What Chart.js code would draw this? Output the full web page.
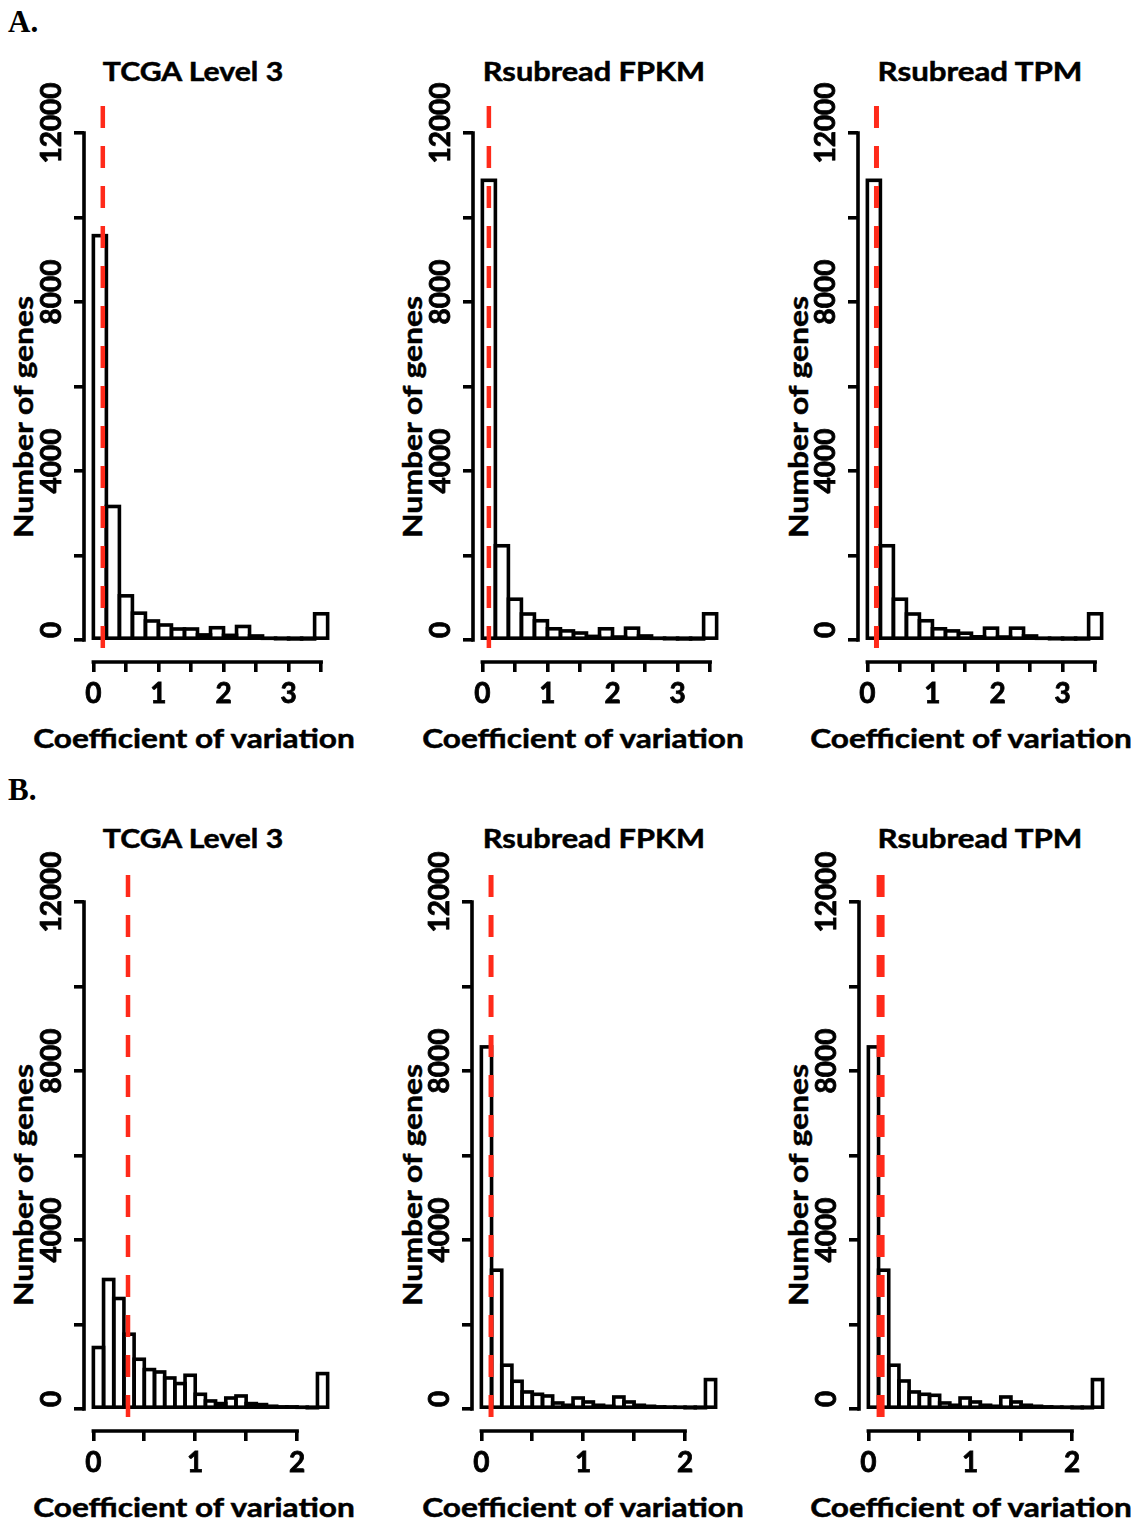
<!DOCTYPE html>
<html><head><meta charset="utf-8">
<script src="https://cdn.jsdelivr.net/npm/chart.js@4.4.1/dist/chart.umd.min.js"></script>
<style>
html,body{margin:0;padding:0;background:#fff;}
#page{position:relative;width:1139px;height:1526px;overflow:hidden;background:#fff;}
canvas{position:absolute;}
.t{position:absolute;display:inline-block;font-family:Lato,'Open Sans',sans-serif;font-weight:700;font-size:27px;line-height:27px;white-space:nowrap;color:#000;-webkit-text-stroke:0.5px #000;}
.lbl{position:absolute;font-family:'Liberation Serif','Times New Roman',serif;font-weight:700;font-size:31px;line-height:31px;color:#000;}
</style></head>
<body><div id="page"></div>
<script>
// ---------------- data ----------------
const rowLetters = ['A.', 'B.'];
const panelTitles = ['TCGA Level 3', 'Rsubread FPKM', 'Rsubread TPM'];
const xTitle = 'Coefficient of variation';
const yTitle = 'Number of genes';

// Row A: bins of width 0.2 (centres)
const binMidsA = [0.1, 0.3, 0.5, 0.7, 0.9, 1.1, 1.3, 1.5, 1.7, 1.9, 2.1, 2.3, 2.5, 2.7, 2.9, 3.1, 3.3, 3.5];
const countsA1 = [9570, 3160, 1045, 635, 450, 355, 260, 260, 120, 290, 110, 320, 95, 40, 30, 25, 25, 620];
const countsA2 = [10880, 2230, 965, 615, 455, 265, 215, 165, 85, 265, 70, 280, 95, 40, 30, 25, 25, 620];
const countsA3 = [10880, 2230, 965, 615, 455, 265, 215, 160, 75, 280, 70, 280, 95, 40, 30, 25, 25, 620];
const cutoffA = [0.145, 0.10, 0.14];

// Row B: bins of width 0.1 (centres)
const binMidsB = [0.05, 0.15, 0.25, 0.35, 0.45, 0.55, 0.65, 0.75, 0.85, 0.95, 1.05, 1.15, 1.25, 1.35, 1.45, 1.55, 1.65, 1.75, 1.85, 1.95, 2.05, 2.15, 2.25];
const countsB1 = [1455, 3065, 2615, 1770, 1177, 933, 876, 734, 602, 798, 348, 190, 128, 260, 308, 128, 104, 65, 50, 50, 40, 30, 838];
const countsB2 = [8570, 3285, 1036, 656, 403, 348, 308, 142, 88, 260, 166, 88, 64, 284, 166, 88, 64, 50, 45, 40, 30, 30, 696];
const countsB3 = [8570, 3285, 1036, 663, 403, 348, 324, 142, 88, 260, 166, 88, 64, 284, 166, 88, 64, 50, 45, 40, 30, 30, 696];
const cutoffB = [0.34, 0.095, 0.12];

// ticks
const yTicks = [0, 2000, 4000, 6000, 8000, 10000, 12000];
const yTickLabels = ['0', '', '4000', '', '8000', '', '12000'];
const xTicksA = [0, 0.5, 1, 1.5, 2, 2.5, 3, 3.5];
const xTickLabelsA = ['0', '', '1', '', '2', '', '3', ''];
const xTicksB = [0, 0.5, 1, 1.5, 2];
const xTickLabelsB = ['0', '', '1', '', '2'];

// ---------------- layout / style ----------------
const RED = '#ff2a1a';
const BW = 3.6;
const Y_MIN = -521, Y_MAX = 12639;
const CH_W = 253, CH_H = 556, YW = 60, XH = 60, PADT = 50, PADR = 12;
const rows = [
  { mids: binMidsA, counts: [countsA1, countsA2, countsA3], cut: cutoffA, xt: xTicksA, xl: xTickLabelsA,
    xmin: -0.144, xmax: 3.744, chartTop: 106, lefts: [84, 473, 858], redW: [4.5, 4.5, 5],
    letterTop: 6, titleTop: 56.7, titleCx: [193, 594, 979.5], xTitleTop: 724.3, xTitleCx: [194, 583, 971],
    yTitleCx: [22, 411, 797], yTitleCy: 417 },
  { mids: binMidsB, counts: [countsB1, countsB2, countsB3], cut: cutoffB, xt: xTicksB, xl: xTickLabelsB,
    xmin: -0.092, xmax: 2.392, chartTop: 875, lefts: [84, 472, 859], redW: [4.5, 5, 8],
    letterTop: 774, titleTop: 824.3, titleCx: [193, 594, 979.5], xTitleTop: 1492.6, xTitleCx: [194, 583, 971],
    yTitleCx: [22, 411, 797], yTitleCy: 1185 }
];
const titleW = [180, 222, 205], xTitleW = 322, yTitleW = 242;

const outlinePlugin = {
  id: 'histOutline',
  afterDatasetDraw(chart, args) {
    if (args.meta.type !== 'bar') return;
    const ctx = chart.ctx;
    ctx.save();
    ctx.strokeStyle = '#000';
    ctx.lineWidth = BW;
    ctx.lineJoin = 'miter';
    args.meta.data.forEach(el => {
      const top = Math.min(el.y, el.base), h = Math.abs(el.base - el.y);
      ctx.strokeRect(el.x - el.width / 2, top, el.width, h);
    });
    ctx.restore();
  }
};
const axisPlugin = {
  id: 'rAxisLines',
  beforeDatasetsDraw(chart) {
    const { ctx, chartArea, scales: { x, y } } = chart;
    ctx.save();
    ctx.strokeStyle = '#000';
    ctx.lineWidth = BW;
    ctx.lineCap = 'square';
    ctx.beginPath();
    ctx.moveTo(x.getPixelForValue(x.ticks[0].value), chartArea.bottom);
    ctx.lineTo(x.getPixelForValue(x.ticks[x.ticks.length - 1].value), chartArea.bottom);
    ctx.moveTo(chartArea.left, y.getPixelForValue(y.ticks[0].value));
    ctx.lineTo(chartArea.left, y.getPixelForValue(y.ticks[y.ticks.length - 1].value));
    ctx.stroke();
    ctx.restore();
  }
};

const page = document.getElementById('page');
function addText(txt, cx, top, targetW, rotated) {
  const d = document.createElement('div');
  d.className = 't';
  d.textContent = txt;
  d.style.left = '0px';
  d.style.top = top + 'px';
  page.appendChild(d);
  const w = d.offsetWidth || targetW;
  const s = targetW / w;
  d.style.left = cx + 'px';
  d.style.transform = rotated
    ? 'translate(-50%,-50%) rotate(-90deg) scaleX(' + s + ')'
    : 'translateX(-50%) scaleX(' + s + ')';
}
function addLetter(txt, left, top) {
  const d = document.createElement('div');
  d.className = 'lbl';
  d.textContent = txt;
  d.style.left = left + 'px';
  d.style.top = top + 'px';
  page.appendChild(d);
}

const tickFont = { family: 'Lato', size: 28, weight: 'bold' };

rows.forEach((r, ri) => {
  addLetter(rowLetters[ri], 8, r.letterTop);
  for (let c = 0; c < 3; c++) {
    addText(panelTitles[c], r.titleCx[c], r.titleTop, titleW[c], false);
    addText(xTitle, r.xTitleCx[c], r.xTitleTop, xTitleW, false);
    addText(yTitle, r.yTitleCx[c], r.yTitleCy, yTitleW, true);

    const cv = document.createElement('canvas');
    const W = YW + CH_W + PADR, H = PADT + CH_H + XH;
    cv.width = W; cv.height = H;
    cv.style.width = W + 'px'; cv.style.height = H + 'px';
    cv.style.left = (r.lefts[c] - YW) + 'px';
    cv.style.top = (r.chartTop - PADT) + 'px';
    page.appendChild(cv);

    const counts = r.counts[c];
    new Chart(cv.getContext('2d'), {
      type: 'bar',
      data: {
        datasets: [
          { type: 'line', data: [{ x: r.cut[c], y: Y_MAX }, { x: r.cut[c], y: Y_MIN }],
            borderColor: RED, borderWidth: r.redW[c], borderDash: [22, 18], borderCapStyle: 'butt',
            pointRadius: 0, fill: false, tension: 0, order: 0 },
          { type: 'bar', data: r.mids.map((m, i) => ({ x: m, y: counts[i] })),
            backgroundColor: '#fff', borderWidth: 0, barPercentage: 1, categoryPercentage: 1, order: 1 }
        ]
      },
      options: {
        responsive: false, animation: false, devicePixelRatio: 1,
        layout: { padding: { top: PADT, right: PADR, left: 0, bottom: 0 } },
        plugins: { legend: { display: false }, tooltip: { enabled: false }, title: { display: false } },
        scales: {
          x: {
            type: 'linear', min: r.xmin, max: r.xmax, offset: false,
            border: { display: false },
            grid: { display: true, drawOnChartArea: false, drawTicks: true, tickLength: 10, lineWidth: BW, color: '#000', offset: false },
            ticks: { autoSkip: false, minRotation: 0, maxRotation: 0, padding: 5, color: '#000', font: tickFont,
              textStrokeColor: '#000', textStrokeWidth: 0.8,
              callback: (v, i) => r.xl[i] },
            afterBuildTicks: s => { s.ticks = r.xt.map(v => ({ value: v })); },
            afterFit: s => { s.height = XH; }
          },
          y: {
            type: 'linear', min: Y_MIN, max: Y_MAX,
            border: { display: false },
            grid: { display: true, drawOnChartArea: false, drawTicks: true, tickLength: 10, lineWidth: BW, color: '#000' },
            ticks: { autoSkip: false, minRotation: 90, maxRotation: 90, crossAlign: 'center', padding: -19, labelOffset: -10,
              color: '#000', font: tickFont, textStrokeColor: '#000', textStrokeWidth: 0.8,
              callback: (v, i) => yTickLabels[i] },
            afterBuildTicks: s => { s.ticks = yTicks.map(v => ({ value: v })); },
            afterFit: s => { s.width = YW; }
          }
        }
      },
      plugins: [outlinePlugin, axisPlugin]
    });
  }
});
</script>
</body></html>
